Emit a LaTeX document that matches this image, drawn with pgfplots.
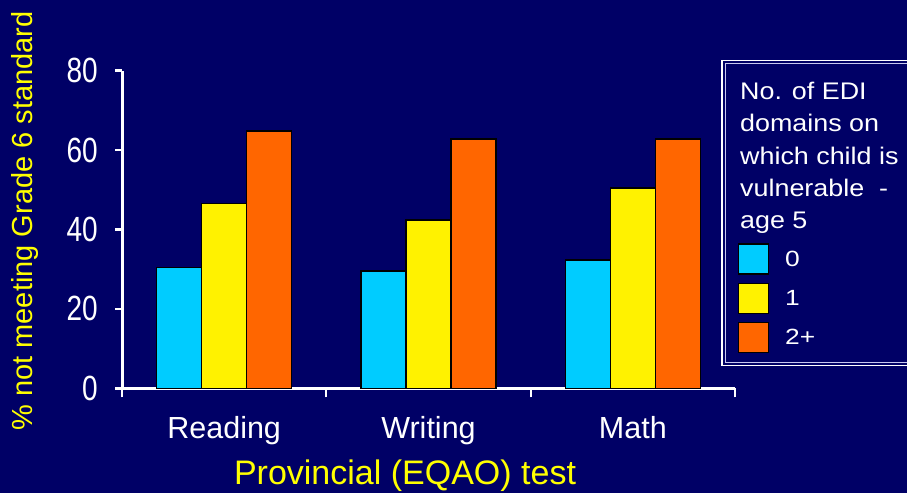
\documentclass[border=0pt]{standalone}
\usepackage{fontspec}
\setmainfont{Liberation Sans}
\newfontfamily\ytickfont[FakeStretch=0.8]{Liberation Sans}
\newfontfamily\legtitlefont[FakeStretch=1.12]{Liberation Sans}
\newfontfamily\legentryfont[FakeStretch=1.2]{Liberation Sans}
\newcommand\lef{\legentryfont\fontsize{22bp}{22bp}\selectfont}
\usepackage{pgfplots}
\pgfplotsset{compat=1.18}
\definecolor{bg}{HTML}{000066}
\definecolor{cyanbar}{HTML}{00CCFF}
\definecolor{yellowbar}{HTML}{FFF200}
\definecolor{orangebar}{HTML}{FF6600}
\definecolor{labyellow}{HTML}{FFFF00}
\definecolor{lavender}{HTML}{C8C8F0}

\pgfplotstableread{
x  zero  one   two
0  30.4  46.6  64.8
1  29.5  42.4  62.8
2  32.3  50.4  62.8
}\datatable

\begin{document}
\begin{tikzpicture}[x=1bp,y=1bp]
\useasboundingbox (0,0) rectangle (907,493);
\fill[bg] (0,0) rectangle (907,493);
\begin{axis}[
  at={(122bp,104.7bp)}, anchor=south west,
  scale only axis, width=613bp, height=317.6bp,
  xmin=-0.5, xmax=2.5, ymin=0, ymax=80,
  axis x line*=bottom, axis y line*=left,
  axis line style={white, line width=3bp, -},
  ybar, bar width=0.22,
  xtick={0,1,2}, xticklabels={Reading,Writing,Math},
  minor xtick={-0.5,0.5,1.5,2.5},
  ytick={0,20,40,60,80},
  tick align=outside,
  major tick length=7bp, minor tick length=9bp,
  major x tick style={draw=none},
  minor x tick style={white, line width=2bp},
  major y tick style={white, line width=2.5bp},
  /pgf/number format/assume math mode=true,
  yticklabel style={font=\ytickfont\fontsize{35bp}{35bp}\selectfont, text=white, anchor=east, inner sep=0pt, xshift=-17bp},
  xticklabel style={font=\fontsize{30.5bp}{30.5bp}\selectfont, text=white, anchor=base, inner sep=0pt, yshift=-43.4bp},
  ylabel={\% not meeting Grade 6 standard},
  ylabel style={at={(axis description cs:-0.158,0.5268)}, anchor=center, font=\fontsize{29bp}{29bp}\selectfont, text=labyellow, inner sep=0pt},
  xlabel={Provincial (EQAO) test},
  xlabel style={at={(axis description cs:0.4617,-0.302)}, anchor=base, font=\fontsize{34bp}{34bp}\selectfont, text=labyellow, inner sep=0pt},
  legend image code/.code={\draw[#1,draw=black,line width=1.2bp] (0bp,-15bp) rectangle (30bp,15bp);},
  legend style={at={(axis description cs:1.0049,0.456)}, anchor=north west, draw=none, fill=none, inner sep=0pt, outer sep=0pt, row sep=8bp, column sep=16bp, font=\lef, text=white, nodes={inner sep=0pt, text=white, font=\lef}},
  legend cell align=left,
]
\addplot[fill=cyanbar, draw=black, line width=1.5bp, bar shift=-0.22] table[x=x, y=zero] {\datatable};
\addplot[fill=yellowbar, draw=black, line width=1.5bp, bar shift=0] table[x=x, y=one] {\datatable};
\addplot[fill=orangebar, draw=black, line width=1.5bp, bar shift=0.22] table[x=x, y=two] {\datatable};
\legend{{\lef 0},{\lef 1},{\lef 2+}}
\end{axis}
% legend frame
\draw[white, line width=1.5bp] (722,432.5) rectangle (930,127.5);
\draw[lavender, line width=1.2bp] (725.5,429.5) rectangle (930,130.5);
% legend title
\foreach \t/\yy in {{No. of EDI}/99.3, {domains on}/131.7, {which child is}/164.1, {vulnerable\ \ -}/196.5, {age 5}/228.9}{
  \node[anchor=base west, inner sep=0pt, text=white, font=\legtitlefont\fontsize{24bp}{24bp}\selectfont] at (740,493-\yy) {\t};
}
\end{tikzpicture}
\end{document}
